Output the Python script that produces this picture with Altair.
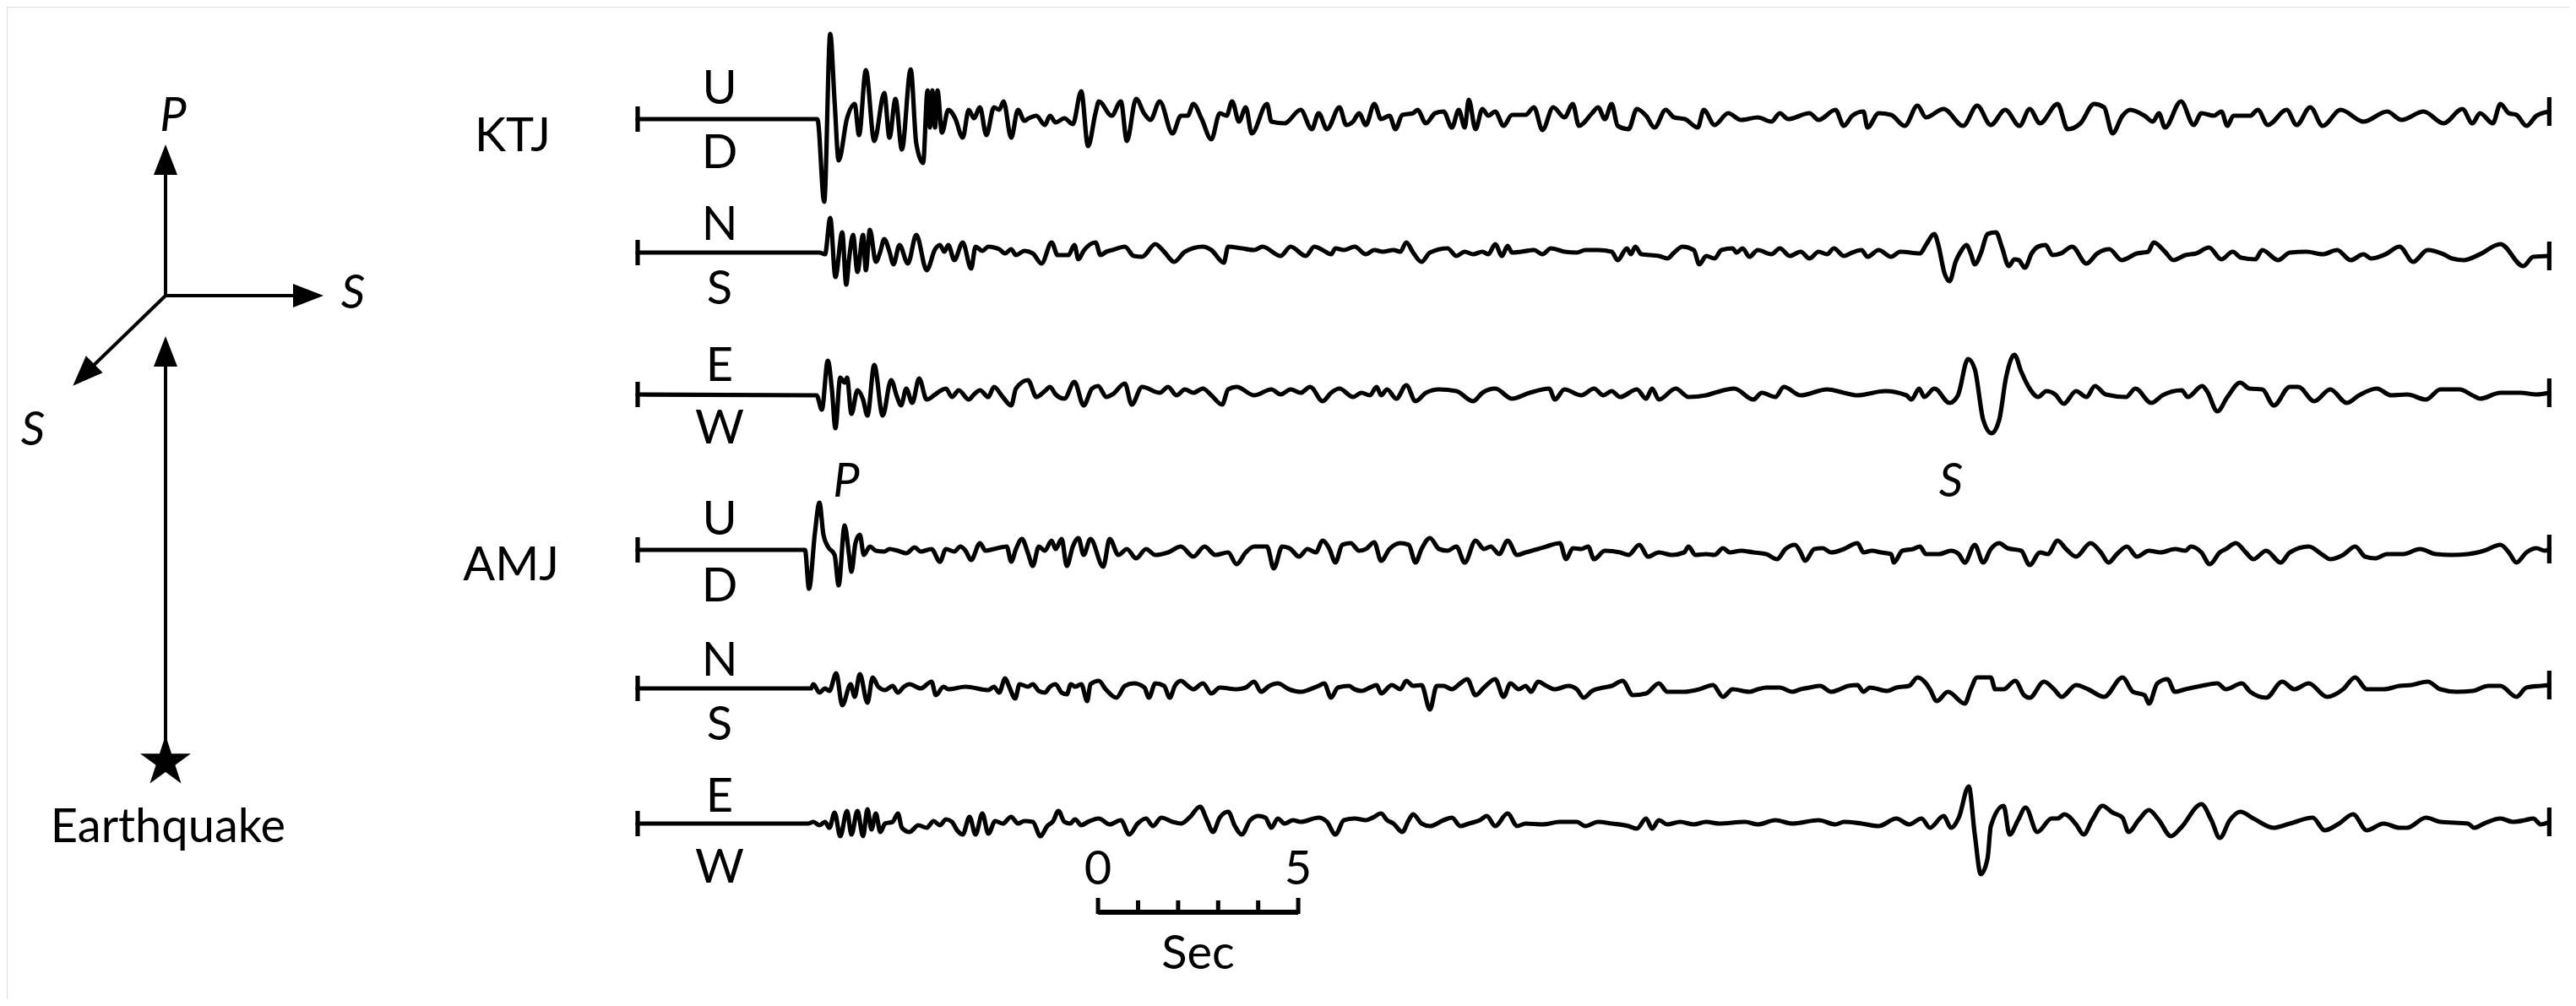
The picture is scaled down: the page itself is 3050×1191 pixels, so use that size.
import altair as alt
import pandas as pd

# ---------------- data: seismogram traces ----------------
# (seconds from start of record, amplitude; positive = up)
KTJ_UD = [(0.00,0),(4.49,0),(4.66,-98),(4.81,101),(4.92,20),(5.02,-49),(5.23,1),(5.42,18),(5.53,-19),(5.70,58),(5.91,-26),(6.16,31),(6.29,-22),(6.44,24),(6.60,-36),(6.82,59),(6.96,-29),(7.13,-52),(7.24,34),(7.30,-10),(7.36,34),(7.43,-10),(7.49,34),(7.60,-16),(7.76,11),(7.93,1),(8.12,-22),(8.27,11),(8.40,1),(8.55,14),(8.71,-19),(8.90,14),(9.03,11),(9.14,21),(9.33,-22),(9.50,11),(9.66,-2),(9.77,1),(9.96,4),(10.17,-7),(10.30,4),(10.44,-4),(10.66,1),(10.87,-6),(11.08,33),(11.25,-32),(11.44,8),(11.52,21),(11.84,4),(12.07,21),(12.22,-26),(12.45,24),(12.66,6),(12.81,-1),(13.04,21),(13.36,-17),(13.57,4),(13.74,4),(13.88,18),(14.09,0),(14.33,-24),(14.54,7),(14.71,4),(14.85,21),(15.02,-3),(15.19,14),(15.34,-17),(15.72,18),(15.83,-3),(16.16,-5),(16.56,11),(16.84,-12),(17.01,7),(17.22,-12),(17.53,14),(17.70,-7),(17.87,-3),(18.02,7),(18.19,-7),(18.40,18),(18.57,0),(18.78,4),(18.93,-12),(19.10,5),(19.37,7),(19.48,11),(19.69,-5),(19.92,7),(20.13,9),(20.34,-10),(20.51,11),(20.66,-10),(20.76,23),(20.93,-12),(21.10,12),(21.25,4),(21.42,9),(21.63,-8),(21.84,5),(22.18,5),(22.39,14),(22.60,-13),(22.87,14),(23.15,2),(23.36,18),(23.51,-8),(23.84,7),(23.99,14),(24.16,0),(24.33,18),(24.48,-8),(24.75,-12),(24.96,12),(25.19,4),(25.40,-10),(25.68,11),(25.89,2),(26.16,0),(26.48,-10),(26.63,11),(26.90,-7),(27.24,7),(27.56,-1),(27.98,2),(28.32,-3),(28.53,7),(28.74,0),(29.27,7),(29.50,-1),(29.92,11),(30.13,-8),(30.34,4),(30.62,9),(30.72,-10),(31.00,7),(31.31,5),(31.65,-8),(31.97,16),(32.18,2),(32.62,12),(33.11,-8),(33.46,16),(33.80,-7),(34.16,11),(34.52,-8),(34.77,12),(35.03,-5),(35.47,18),(35.72,-12),(36.04,-5),(36.38,18),(36.63,14),(36.84,-17),(37.09,4),(37.28,11),(37.64,4),(37.85,-3),(38.00,7),(38.15,-10),(38.55,21),(38.87,-7),(39.06,7),(39.37,4),(39.56,9),(39.71,-8),(39.86,4),(40.28,4),(40.47,11),(40.72,-7),(41.19,11),(41.44,-7),(41.78,14),(42.09,-8),(42.54,11),(43.11,-3),(43.70,9),(44.06,-1),(44.61,9),(45.11,-5),(45.58,12),(45.83,-5),(46.02,7),(46.34,-5),(46.53,18),(46.74,7),(46.93,5),(47.18,-8),(47.43,4),(47.75,9)]

KTJ_NS = [(0.00,0),(4.54,0),(4.68,-2),(4.81,41),(4.94,-29),(5.11,24),(5.21,-38),(5.28,-8),(5.38,21),(5.49,-23),(5.63,21),(5.70,-21),(5.80,27),(5.95,-11),(6.06,1),(6.16,16),(6.29,1),(6.39,-14),(6.54,9),(6.75,-13),(6.96,21),(7.22,-21),(7.43,4),(7.55,9),(7.66,1),(7.76,9),(7.91,-9),(8.12,12),(8.33,-19),(8.44,7),(8.61,2),(8.76,7),(8.90,6),(9.03,4),(9.18,-1),(9.33,4),(9.45,-3),(9.66,2),(9.87,-1),(10.09,-13),(10.34,12),(10.49,-3),(10.76,-3),(10.91,9),(11.01,-8),(11.14,2),(11.44,12),(11.56,-3),(11.71,1),(11.86,3),(12.17,7),(12.39,-4),(12.60,-5),(12.93,10),(13.15,1),(13.40,-11),(13.67,1),(14.12,7),(14.33,3),(14.64,-12),(14.75,7),(15.09,5),(15.40,3),(15.61,7),(16.06,-4),(16.31,7),(16.69,-4),(16.90,7),(17.11,3),(17.32,-2),(17.43,5),(17.64,3),(17.91,7),(18.19,-2),(18.40,3),(18.61,1),(18.88,3),(19.05,1),(19.20,12),(19.37,0),(19.58,-11),(19.79,0),(20.23,5),(20.45,-4),(20.66,1),(20.87,-2),(21.10,1),(21.25,-2),(21.42,10),(21.59,-4),(21.73,8),(21.84,0),(22.07,1),(22.39,3),(22.60,-2),(22.81,5),(23.15,1),(23.46,0),(23.67,3),(23.99,3),(24.33,1),(24.48,-9),(24.71,5),(24.81,-2),(24.92,7),(25.07,-2),(25.51,-4),(25.72,-7),(25.89,0),(26.10,7),(26.38,3),(26.52,-14),(26.69,-4),(26.90,-7),(27.07,3),(27.35,5),(27.45,0),(27.60,5),(27.77,-5),(27.98,3),(28.32,-2),(28.53,5),(28.78,-4),(29.05,1),(29.27,-7),(29.50,1),(29.71,-2),(29.88,5),(30.13,-4),(30.34,0),(30.57,3),(30.72,-5),(31.00,3),(31.31,-5),(31.54,1),(32.03,-1),(32.18,9),(32.39,22),(32.49,9),(32.64,-24),(32.77,-34),(32.92,-11),(33.06,2),(33.19,9),(33.30,-1),(33.40,-14),(33.55,-1),(33.72,22),(33.93,24),(34.08,6),(34.25,-16),(34.39,-8),(34.50,-9),(34.65,-18),(34.82,-1),(34.98,7),(35.17,9),(35.34,-3),(35.55,-1),(35.83,7),(36.19,-13),(36.46,-1),(36.76,4),(37.07,-9),(37.45,-1),(37.73,1),(37.87,12),(38.15,1),(38.36,-9),(38.66,-3),(38.93,-1),(39.25,6),(39.56,-8),(39.84,1),(40.05,-6),(40.41,-8),(40.58,3),(40.98,-9),(41.27,0),(41.69,1),(42.09,-2),(42.45,3),(42.79,-9),(43.11,-2),(43.30,-7),(43.66,-2),(44.01,7),(44.35,-11),(44.71,3),(45.11,-2),(45.32,-7),(45.62,-9),(46.02,-2),(46.53,10),(47.10,-16),(47.35,-5),(47.75,-4)]

KTJ_EW = [(0.00,0),(4.47,-1),(4.60,-18),(4.75,40),(4.85,7),(4.94,-40),(5.06,20),(5.17,14),(5.23,20),(5.34,-23),(5.49,5),(5.63,-6),(5.74,-25),(5.91,35),(6.12,-25),(6.33,17),(6.48,-3),(6.58,-13),(6.71,7),(6.86,-10),(7.03,19),(7.22,-6),(7.43,0),(7.55,4),(7.70,7),(7.85,-3),(8.02,5),(8.27,-6),(8.40,0),(8.55,5),(8.76,-3),(8.90,9),(9.12,-3),(9.33,-13),(9.45,7),(9.75,17),(9.96,-3),(10.17,4),(10.30,9),(10.44,0),(10.66,-5),(10.91,15),(11.14,-13),(11.35,7),(11.50,10),(11.71,-3),(11.86,0),(12.17,13),(12.34,-12),(12.60,9),(13.04,2),(13.25,9),(13.46,-1),(13.67,6),(13.88,2),(14.12,7),(14.33,-1),(14.60,-12),(14.75,6),(14.96,9),(15.40,-1),(15.83,6),(16.06,0),(16.31,6),(16.56,2),(16.80,9),(17.11,-8),(17.32,2),(17.53,7),(17.87,-3),(18.08,2),(18.29,-1),(18.46,9),(18.57,-1),(18.72,6),(18.95,-5),(19.20,11),(19.43,-8),(19.69,2),(20.02,6),(20.45,4),(20.87,-8),(21.10,2),(21.42,7),(21.84,-5),(22.28,2),(22.77,7),(22.91,-6),(23.15,6),(23.57,-1),(23.89,7),(24.12,-1),(24.33,4),(24.54,-3),(24.96,6),(25.19,-5),(25.34,7),(25.51,-6),(25.93,7),(26.25,-3),(26.69,-1),(26.90,2),(27.39,7),(27.87,-6),(28.08,2),(28.42,-3),(28.63,9),(29.05,-1),(29.71,6),(30.13,2),(30.47,-1),(31.16,4),(31.69,-1),(31.82,-6),(32.01,7),(32.14,-3),(32.39,7),(32.77,-10),(32.98,-1),(33.23,42),(33.40,30),(33.61,-30),(33.82,-46),(34.01,-30),(34.18,20),(34.39,47),(34.56,27),(34.77,7),(34.98,-3),(35.19,4),(35.41,0),(35.62,-11),(35.93,4),(36.19,-3),(36.40,10),(36.67,0),(37.18,-3),(37.41,7),(37.81,-10),(38.09,-1),(38.57,5),(38.72,-3),(39.08,10),(39.20,4),(39.46,-20),(39.71,-3),(40.03,14),(40.26,7),(40.58,6),(40.87,-13),(41.27,9),(41.48,9),(41.88,-8),(42.28,6),(42.69,-10),(43.00,-1),(43.44,7),(43.80,-1),(44.20,0),(44.67,-6),(45.03,6),(45.51,6),(45.83,-1),(46.02,-5),(46.53,2),(47.03,2),(47.43,0),(47.75,2)]

AMJ_UD = [(0.00,0),(4.18,0),(4.28,-46),(4.43,21),(4.54,56),(4.64,18),(4.75,4),(4.92,-6),(5.02,-42),(5.17,29),(5.28,-6),(5.34,-26),(5.44,8),(5.55,18),(5.65,-6),(5.80,4),(5.95,-1),(6.16,-2),(6.29,1),(6.50,-1),(6.71,-4),(6.92,3),(7.07,-2),(7.34,1),(7.55,-14),(7.70,1),(7.91,-2),(8.06,4),(8.19,-1),(8.33,-12),(8.55,8),(8.69,-1),(8.90,1),(9.22,4),(9.33,-14),(9.45,1),(9.60,13),(9.75,-4),(9.87,-19),(10.02,4),(10.17,-1),(10.34,11),(10.44,1),(10.59,13),(10.72,-19),(10.87,4),(11.01,14),(11.14,-6),(11.31,13),(11.63,-20),(11.79,13),(12.01,-6),(12.22,1),(12.45,-10),(12.70,1),(12.93,-6),(13.25,-3),(13.57,4),(13.88,-8),(14.16,4),(14.43,-6),(14.75,-3),(14.96,-17),(15.19,-3),(15.40,4),(15.72,4),(15.89,-22),(16.10,4),(16.31,1),(16.52,-8),(16.73,1),(16.94,-3),(17.11,11),(17.28,1),(17.43,-15),(17.60,6),(17.81,8),(18.02,-1),(18.19,1),(18.40,9),(18.57,-13),(18.78,1),(19.05,8),(19.26,6),(19.43,-15),(19.58,1),(19.79,14),(20.02,1),(20.23,-1),(20.45,4),(20.66,-15),(20.93,11),(21.14,1),(21.31,4),(21.52,-5),(21.73,11),(21.97,-6),(22.18,-3),(22.49,1),(22.70,4),(23.04,8),(23.19,-11),(23.36,2),(23.57,1),(23.74,4),(23.89,-11),(24.16,-1),(24.54,-3),(24.75,-6),(25.02,6),(25.24,-8),(25.51,-3),(25.83,-6),(26.14,-3),(26.25,4),(26.42,-6),(26.69,-5),(26.90,-6),(27.11,2),(27.28,-3),(27.56,-1),(27.87,-3),(28.19,-5),(28.46,-11),(28.67,1),(28.91,6),(29.05,-3),(29.16,-13),(29.39,1),(29.60,2),(29.81,-3),(30.13,1),(30.47,8),(30.62,-3),(30.83,-1),(31.06,-3),(31.31,-5),(31.38,-15),(31.59,-1),(31.86,1),(32.03,4),(32.18,-5),(32.51,-5),(32.81,-1),(33.00,-5),(33.15,-15),(33.40,6),(33.61,-15),(33.80,1),(34.01,8),(34.22,2),(34.56,-1),(34.77,-18),(35.03,-3),(35.22,-5),(35.47,11),(35.68,1),(35.93,-8),(36.29,8),(36.55,-3),(36.74,-15),(36.95,-5),(37.20,4),(37.45,-8),(37.75,-1),(38.04,-3),(38.40,1),(38.66,-1),(38.80,4),(39.06,-3),(39.27,-17),(39.52,-3),(39.67,1),(39.92,8),(40.17,-3),(40.36,-11),(40.68,-1),(41.04,-15),(41.27,-3),(41.74,4),(42.09,-6),(42.28,-11),(42.60,-6),(42.90,4),(43.15,-8),(43.40,-10),(43.70,-5),(44.10,-5),(44.52,1),(44.92,-5),(45.32,-6),(45.72,-5),(46.12,-1),(46.53,6),(46.74,-3),(46.93,-15),(47.18,-3),(47.43,2),(47.64,-1),(47.75,1)]

AMJ_NS = [(0.00,0),(4.33,0),(4.39,5),(4.54,-5),(4.68,0),(4.79,-3),(4.96,18),(5.11,-20),(5.32,5),(5.42,-10),(5.55,17),(5.74,-17),(5.87,13),(6.01,2),(6.18,-2),(6.37,3),(6.50,-5),(6.65,2),(6.79,5),(7.07,0),(7.34,8),(7.45,-8),(7.64,2),(7.76,-1),(8.19,2),(8.76,-2),(8.90,2),(9.03,-5),(9.18,12),(9.28,2),(9.43,-12),(9.54,5),(9.75,2),(9.87,5),(10.02,-3),(10.17,-5),(10.30,2),(10.44,5),(10.59,-5),(10.72,-7),(10.82,5),(10.93,2),(11.08,5),(11.23,-15),(11.31,5),(11.52,9),(11.69,-1),(11.96,-11),(12.17,3),(12.39,6),(12.66,1),(12.77,-11),(12.93,6),(13.15,3),(13.29,-11),(13.42,3),(13.57,9),(13.74,3),(13.88,-1),(14.12,6),(14.33,-6),(14.54,1),(14.96,-1),(15.19,1),(15.40,8),(15.57,-4),(15.78,3),(15.99,6),(16.27,-1),(16.56,-4),(16.80,-1),(17.01,3),(17.15,6),(17.32,-11),(17.49,1),(17.77,3),(17.91,-1),(18.08,-3),(18.29,1),(18.46,4),(18.57,-6),(18.84,4),(19.05,-1),(19.20,9),(19.37,3),(19.58,4),(19.79,-25),(19.96,3),(20.13,3),(20.34,-1),(20.55,6),(20.72,11),(20.93,-8),(21.14,1),(21.42,11),(21.63,-10),(21.80,6),(22.01,-1),(22.18,3),(22.32,-4),(22.49,8),(22.70,3),(22.91,-1),(23.25,3),(23.46,-1),(23.63,-11),(23.84,-3),(24.12,1),(24.33,3),(24.60,9),(24.86,-8),(25.19,-6),(25.51,6),(25.72,-4),(26.14,-4),(26.52,-1),(26.86,4),(27.11,-10),(27.35,-1),(27.77,-4),(27.98,-1),(28.19,1),(28.53,1),(28.84,-4),(29.05,-1),(29.27,1),(29.54,3),(29.81,-4),(30.03,-1),(30.24,3),(30.47,4),(30.62,-4),(30.78,1),(31.21,-3),(31.44,1),(31.76,3),(31.97,13),(32.18,6),(32.28,-1),(32.45,-15),(32.73,-4),(33.15,-18),(33.30,-1),(33.46,13),(33.80,13),(33.91,-1),(34.12,-1),(34.41,9),(34.63,-8),(34.77,-11),(35.13,8),(35.38,-1),(35.57,-10),(35.93,4),(36.23,-1),(36.63,-10),(37.09,13),(37.35,-4),(37.64,-8),(37.75,-18),(37.96,6),(38.21,11),(38.40,-4),(38.66,-1),(39.06,3),(39.46,6),(39.67,-1),(40.07,6),(40.28,-4),(40.68,-11),(41.08,8),(41.38,-1),(41.74,6),(42.20,-10),(42.60,-1),(42.90,13),(43.19,-1),(43.61,-1),(44.01,3),(44.31,4),(44.71,8),(45.03,-1),(45.43,-4),(45.83,-3),(46.23,3),(46.53,3),(46.93,-10),(47.18,1),(47.54,3),(47.75,4)]

AMJ_EW = [(0.00,0),(4.26,0),(4.39,2),(4.54,-2),(4.68,2),(4.79,-5),(4.92,13),(5.06,-15),(5.23,15),(5.34,-13),(5.49,15),(5.63,-15),(5.74,17),(5.84,-7),(5.95,12),(6.06,-10),(6.18,0),(6.37,2),(6.50,12),(6.60,-5),(6.79,-10),(7.01,-2),(7.22,-5),(7.39,3),(7.55,-2),(7.70,5),(7.85,2),(7.98,-8),(8.12,-13),(8.29,8),(8.44,-13),(8.61,12),(8.76,-12),(8.93,3),(9.12,0),(9.33,8),(9.50,0),(9.66,3),(9.87,2),(10.06,-15),(10.23,-3),(10.38,3),(10.51,15),(10.66,2),(10.80,0),(10.93,5),(11.08,-2),(11.25,2),(11.52,6),(11.79,-1),(12.07,4),(12.28,-13),(12.49,0),(12.70,6),(12.87,-3),(13.08,7),(13.36,2),(13.57,0),(13.78,7),(14.05,20),(14.22,4),(14.37,-10),(14.54,7),(14.75,14),(14.92,-3),(15.09,-13),(15.30,4),(15.51,9),(15.68,7),(15.83,-5),(15.99,6),(16.16,0),(16.37,4),(16.56,2),(17.01,7),(17.22,2),(17.43,-13),(17.64,4),(17.91,6),(18.19,4),(18.36,7),(18.57,12),(18.72,4),(18.88,0),(19.10,-10),(19.26,4),(19.37,11),(19.58,0),(19.79,-3),(20.13,4),(20.34,7),(20.55,-3),(20.76,0),(21.04,4),(21.21,9),(21.42,-3),(21.73,12),(21.97,-3),(22.18,0),(22.60,-1),(23.04,2),(23.46,2),(23.67,-3),(23.99,2),(24.33,0),(24.75,-3),(24.96,-6),(25.19,6),(25.34,-6),(25.51,4),(25.72,-1),(26.04,2),(26.38,-1),(26.69,2),(27.01,0),(27.66,2),(27.98,-1),(28.42,4),(28.84,0),(29.50,4),(29.92,-1),(30.13,2),(30.57,0),(31.00,-3),(31.44,6),(31.76,-1),(32.07,6),(32.28,-5),(32.62,9),(32.81,-5),(33.00,7),(33.25,44),(33.40,-13),(33.55,-60),(33.72,-41),(33.80,-3),(34.12,21),(34.27,-13),(34.48,4),(34.67,19),(34.96,-10),(35.32,6),(35.47,6),(35.64,11),(35.93,-1),(36.12,-13),(36.33,4),(36.59,21),(36.84,13),(37.09,7),(37.24,-10),(37.49,4),(37.75,16),(38.00,4),(38.30,-15),(38.55,-5),(39.06,23),(39.31,4),(39.52,-17),(39.77,4),(40.03,14),(40.36,6),(40.87,-5),(41.27,0),(41.84,7),(42.14,-8),(42.50,0),(42.85,11),(43.19,-8),(43.61,0),(44.01,-5),(44.20,-5),(44.67,7),(45.03,2),(45.72,0),(45.87,-5),(46.12,0),(46.53,6),(46.84,2),(47.14,4),(47.35,6),(47.54,-1),(47.75,2)]

STATIONS = ["KTJ", "AMJ"]
COMPONENT_LABELS = [("U", "D"), ("N", "S"), ("E", "W")]
SCALE_SECONDS = [0, 1, 2, 3, 4, 5]
SCALE_TEXT = ["0", "5"]
SCALE_UNIT = "Sec"

# ---------------- layout ----------------
W, H = 3034, 1175
PX_PER_S = 47.4
T0_PAGE = 755
XMIN = (8 - T0_PAGE) / PX_PER_S
XMAX = (8 + W - T0_PAGE) / PX_PER_S
SCALE_START = 11.5
FONT = "Lato"
FS = 56
LW = 5.2

TRACES = [("KTJ UD", KTJ_UD, 141), ("KTJ NS", KTJ_NS, 299), ("KTJ EW", KTJ_EW, 467),
          ("AMJ UD", AMJ_UD, 651), ("AMJ NS", AMJ_NS, 815), ("AMJ EW", AMJ_EW, 975)]

xs = alt.Scale(domain=[XMIN, XMAX], nice=False, zero=False)
ys = alt.Scale(domain=[8, 8 + H], reverse=True, nice=False, zero=False)

rows, ends = [], []
for name, pts, base in TRACES:
    for i, (t, a) in enumerate(pts):
        rows.append({"trace": name, "t": t, "y": base - a, "i": i})
    t0, a0 = pts[0]
    t1, a1 = pts[-1]
    ends.append({"t": t0, "y1": base - a0 - 15, "y2": base - a0 + 15})
    ends.append({"t": t1, "y1": base - a1 - 17, "y2": base - a1 + 17})
df = pd.DataFrame(rows)
df_ends = pd.DataFrame(ends)

traces = alt.Chart(df).mark_line(color="black", strokeWidth=LW, strokeJoin="round",
                                 strokeCap="round", interpolate="monotone").encode(
    x=alt.X("t:Q", scale=xs, axis=None),
    y=alt.Y("y:Q", scale=ys, axis=None),
    detail="trace:N",
    order="i:Q",
)
end_ticks = alt.Chart(df_ends).mark_rule(color="black", strokeWidth=LW).encode(
    x=alt.X("t:Q", scale=xs, axis=None),
    y=alt.Y("y1:Q", scale=ys, axis=None),
    y2="y2:Q",
)

# scale bar
sb = pd.DataFrame({"t": [SCALE_START + s for s in SCALE_SECONDS],
                   "y1": [1063 if s in (0, 5) else 1066 for s in SCALE_SECONDS],
                   "y2": [1082] * len(SCALE_SECONDS)})
sb_ticks = alt.Chart(sb).mark_rule(color="black", strokeWidth=5).encode(
    x=alt.X("t:Q", scale=xs, axis=None), y=alt.Y("y1:Q", scale=ys, axis=None), y2="y2:Q")
sb_line = alt.Chart(pd.DataFrame({"t": [SCALE_START], "t2": [SCALE_START + 5], "y": [1080]})).mark_rule(
    color="black", strokeWidth=6).encode(
    x=alt.X("t:Q", scale=xs, axis=None), x2="t2:Q", y=alt.Y("y:Q", scale=ys, axis=None))
sb_text = alt.Chart(pd.DataFrame({"t": [SCALE_START, SCALE_START + 5], "y": [1047, 1047],
                                  "txt": SCALE_TEXT})).mark_text(
    font=FONT, fontSize=FS, align="center", baseline="alphabetic", color="black").encode(
    x=alt.X("t:Q", scale=xs, axis=None), y=alt.Y("y:Q", scale=ys, axis=None), text="txt:N")
sb_unit = alt.Chart(pd.DataFrame({"t": [SCALE_START + 2.5], "y": [1147], "txt": [SCALE_UNIT]})).mark_text(
    font=FONT, fontSize=FS, align="center", baseline="alphabetic", color="black").encode(
    x=alt.X("t:Q", scale=xs, axis=None), y=alt.Y("y:Q", scale=ys, axis=None), text="txt:N")

ONE = pd.DataFrame({"a": [0]})


def label(text, px, py, italic=False, size=FS):
    return alt.Chart(pd.DataFrame({"txt": [text]})).mark_text(
        font=FONT, fontSize=size, fontStyle="italic" if italic else "normal",
        align="center", baseline="alphabetic", color="black").encode(
        text="txt:N", x=alt.value(px - 8), y=alt.value(py - 8))


def line(x1, y1, x2, y2, w=4):
    return alt.Chart(ONE).mark_rule(color="black", strokeWidth=w).encode(
        x=alt.value(x1 - 8), y=alt.value(y1 - 8), x2=alt.value(x2 - 8), y2=alt.value(y2 - 8))


ARROW = "M0,-1L0.78,1L-0.78,1Z"
STAR = ("M0,-1L0.2245,-0.309L0.951,-0.309L0.363,0.118L0.588,0.809L0,0.382"
        "L-0.588,0.809L-0.363,0.118L-0.951,-0.309L-0.2245,-0.309Z")


def head(cx, cy, angle):
    return alt.Chart(ONE).mark_point(shape=ARROW, filled=True, size=1296, angle=angle,
                                     color="black", opacity=1).encode(
        x=alt.value(cx - 8), y=alt.value(cy - 8))


layers = [traces, end_ticks, sb_ticks, sb_line, sb_text, sb_unit]

# component labels
comp_y = [(123, 199), (284, 360), (451, 525), (633, 712), (800, 876), (961, 1045)]
comps = COMPONENT_LABELS + COMPONENT_LABELS
for (up, dn), (yu, yd) in zip(comps, comp_y):
    layers.append(label(up, 852, yu))
    layers.append(label(dn, 852, yd))

# station names
layers.append(label(STATIONS[0], 607, 179))
layers.append(label(STATIONS[1], 605, 687))
# phase labels
layers.append(label("P", 1002, 588, italic=True))
layers.append(label("S", 2310, 588, italic=True))

# ray diagram
layers += [
    line(196, 350, 196, 189), head(196, 189, 0),
    line(196, 350, 365, 350), head(365, 350, 90),
    line(196, 350, 99, 444), head(99, 444, 225),
    line(196, 880, 196, 416), head(196, 416, 0),
    alt.Chart(ONE).mark_point(shape=STAR, filled=True, size=3969, color="black", opacity=1).encode(
        x=alt.value(196 - 8), y=alt.value(902 - 8)),
    label("P", 205, 155, italic=True),
    label("S", 418, 365, italic=True),
    label("S", 39, 527, italic=True),
    label("Earthquake", 199, 997),
]

chart = alt.layer(*layers).properties(
    width=W, height=H, autosize=alt.AutoSizeParams(type="none"), padding=0
).configure_view(strokeWidth=0).configure(background="white")

chart.save("out.html", embed_options={"renderer": "svg", "actions": False})
